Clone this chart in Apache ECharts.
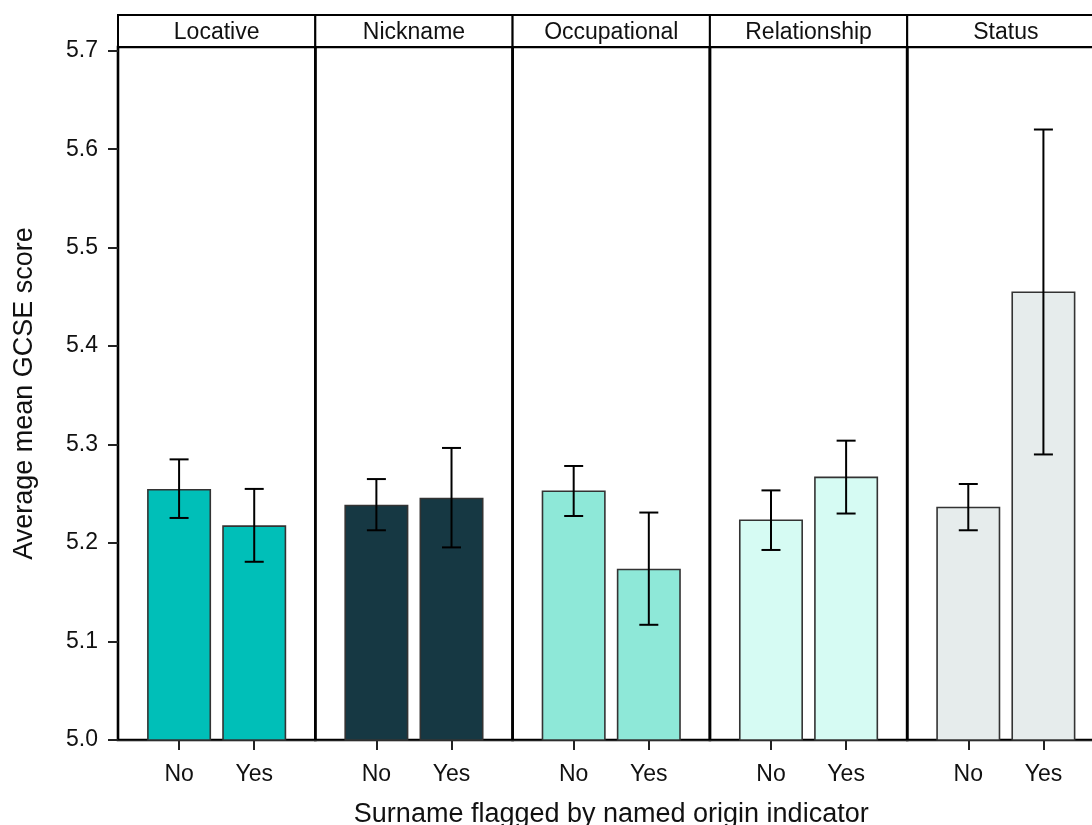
<!DOCTYPE html>
<html>
<head>
<meta charset="utf-8">
<script src="https://cdn.jsdelivr.net/npm/echarts@6/dist/echarts.min.js"></script>
<style>html,body{margin:0;padding:0;background:#fff}#c{width:1092px;height:825px}</style>
</head>
<body>
<div id="c"></div>
<script>
// ---- data ----
const panels = ['Locative', 'Nickname', 'Occupational', 'Relationship', 'Status'];
const flags = ['No', 'Yes'];
const meanNo  = [5.255, 5.239, 5.2535, 5.224, 5.237];
const meanYes = [5.218, 5.246, 5.174, 5.2675, 5.4556];
const lowNo   = [5.2255, 5.213, 5.2275, 5.193, 5.213];
const highNo  = [5.285, 5.265, 5.2783, 5.2535, 5.260];
const lowYes  = [5.181, 5.1956, 5.117, 5.230, 5.290];
const highYes = [5.255, 5.2966, 5.231, 5.304, 5.620];
const panelColors = ['#00BFB8', '#163843', '#8EE8D8', '#D6FBF3', '#E6ECEC'];
const yTicks = [5.0, 5.1, 5.2, 5.3, 5.4, 5.5, 5.6, 5.7];

// ---- layout ----
const L0 = 118, PW = 197.3, TOP = 47, BOTTOM = 740, STRIP_TOP = 15;
const FONT = 'Liberation Sans, Arial, sans-serif';
const TXT = '#111';

const chart = echarts.init(document.getElementById('c'));
const grids = [], xAxes = [], yAxes = [], series = [], graphics = [];

panels.forEach((p, i) => {
  const left = L0 + i * PW;
  grids.push({left: left, top: TOP, width: PW, height: BOTTOM - TOP,
    outerBoundsMode: 'none', containLabel: false,
    show: true, borderColor: '#000', borderWidth: 2.6, backgroundColor: 'transparent'});
  xAxes.push({
    type: 'value', gridIndex: i, min: -0.813, max: 1.813, position: 'bottom',
    axisLine: {show: true, onZero: false, lineStyle: {color: '#222', width: 1.2}},
    axisTick: {show: true, customValues: [0, 1], length: 10, lineStyle: {color: '#222', width: 2}},
    axisLabel: {show: true, customValues: [0, 1], margin: 23, fontFamily: FONT, fontSize: 23, color: TXT,
      formatter: v => flags[Math.round(v)]},
    splitLine: {show: false},
    name: i === 2 ? 'Surname flagged by named origin indicator' : '',
    nameLocation: 'middle', nameGap: 61,
    nameTextStyle: {fontFamily: FONT, fontSize: 27, color: TXT}
  });
  yAxes.push({
    type: 'value', gridIndex: i, min: 5.0, max: 5.7038, position: 'left',
    axisLine: {show: i === 0, onZero: false, lineStyle: {color: '#000', width: 2}},
    axisTick: {show: i === 0, customValues: yTicks, length: 10, lineStyle: {color: '#222', width: 2}},
    axisLabel: {show: i === 0, customValues: yTicks, margin: 20, fontFamily: FONT, fontSize: 23, color: TXT,
      formatter: v => v.toFixed(1)},
    splitLine: {show: false},
    name: i === 0 ? 'Average mean GCSE score' : '',
    nameLocation: 'middle', nameGap: 80,
    nameTextStyle: {fontFamily: FONT, fontSize: 27, color: TXT}
  });
  series.push({
    type: 'bar', xAxisIndex: i, yAxisIndex: i, barWidth: 64, clip: true,
    itemStyle: {color: panelColors[i], borderColor: '#333', borderWidth: 1.6},
    data: [[0, meanNo[i]], [1, meanYes[i]]]
  });
  series.push({
    type: 'custom', xAxisIndex: i, yAxisIndex: i, clip: false, z: 5,
    data: [[0, lowNo[i], highNo[i]], [1, lowYes[i], highYes[i]]],
    renderItem: (params, api) => {
      const x = api.value(0);
      const lo = api.coord([x, api.value(1)]);
      const hi = api.coord([x, api.value(2)]);
      const hw = 9.5;
      const st = {stroke: '#000', lineWidth: 2};
      return {type: 'group', children: [
        {type: 'line', shape: {x1: lo[0], y1: lo[1], x2: hi[0], y2: hi[1]}, style: st},
        {type: 'line', shape: {x1: lo[0]-hw, y1: lo[1], x2: lo[0]+hw, y2: lo[1]}, style: st},
        {type: 'line', shape: {x1: hi[0]-hw, y1: hi[1], x2: hi[0]+hw, y2: hi[1]}, style: st}
      ]};
    }
  });
  graphics.push({
    type: 'rect', shape: {x: left, y: STRIP_TOP, width: PW, height: TOP - STRIP_TOP},
    style: {fill: '#fff', stroke: '#000', lineWidth: 2}, z: 10
  });
  graphics.push({
    type: 'text', x: left + PW / 2, y: STRIP_TOP + (TOP - STRIP_TOP) / 2 + 2, z: 11,
    style: {text: p, fontFamily: FONT, fontSize: 23, fill: TXT, align: 'center', verticalAlign: 'middle'}
  });
});

chart.setOption({
  animation: false,
  backgroundColor: '#fff',
  grid: grids, xAxis: xAxes, yAxis: yAxes, series: series,
  graphic: graphics
});
</script>
</body>
</html>
